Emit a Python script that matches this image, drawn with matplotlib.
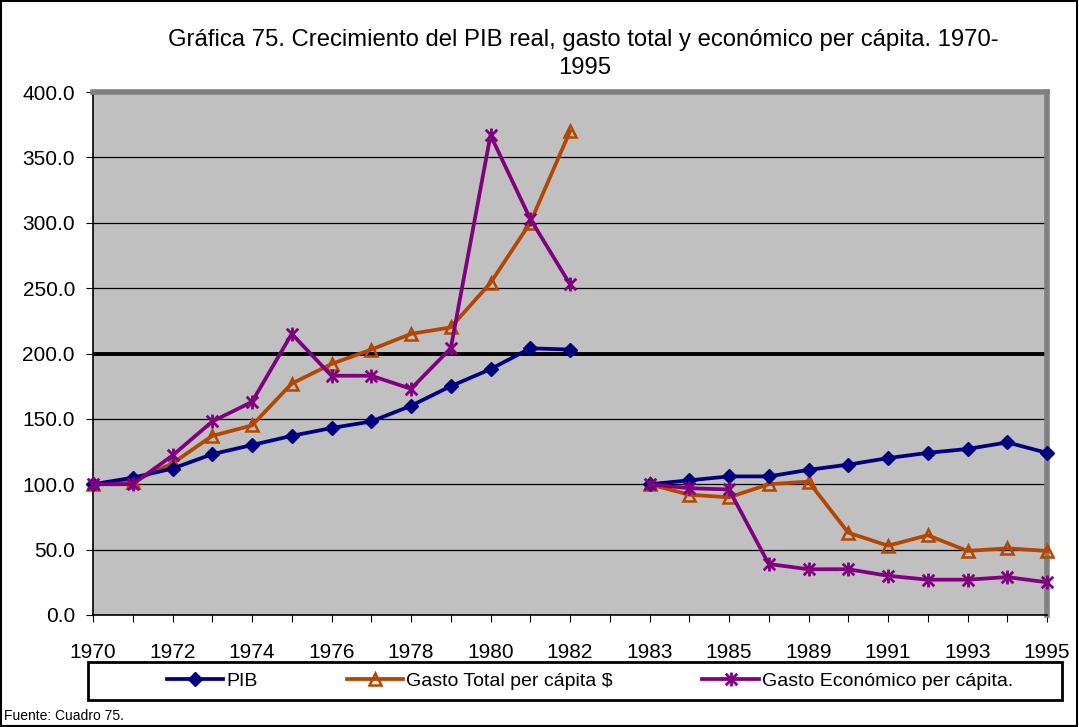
import numpy as np
import matplotlib
matplotlib.use("Agg")
import matplotlib.pyplot as plt
from matplotlib.path import Path
from matplotlib.patches import Rectangle

plt.rcParams["font.family"] = ["Liberation Sans", "DejaVu Sans"]

# Categorías del eje X (la posición vacía separa las dos series de años)
years = ["1970", "1971", "1972", "1973", "1974", "1975", "1976", "1977", "1978",
         "1979", "1980", "1981", "1982", "", "1983", "1984", "1985", "1987",
         "1989", "1990", "1991", "1992", "1993", "1994", "1995"]
shown_labels = ["1970", "1972", "1974", "1976", "1978", "1980", "1982",
                "1983", "1985", "1989", "1991", "1993", "1995"]

nan = np.nan
pib = [100, 105, 112, 123, 130, 137, 143, 148, 160, 175, 188, 204, 203, nan,
       100, 103, 106, 106, 111, 115, 120, 124, 127, 132, 124]
gasto_total = [100, 102, 116, 137, 145, 177, 192, 203, 215, 220, 254, 300, 370, nan,
               100, 92, 90, 100, 102, 63, 53, 61, 49, 51, 49]
gasto_economico = [100, 100, 122, 148, 163, 215, 183, 183, 173, 204, 367, 303, 253, nan,
                   100, 97, 96, 39, 35, 35, 30, 27, 27, 29, 25]

y_ticks = [0, 50, 100, 150, 200, 250, 300, 350, 400]

# Marcador tipo asterisco (X con trazo vertical)
star = Path([(-1, -1), (1, 1), (-1, 1), (1, -1), (0, -1.2), (0, 1.2)],
            [Path.MOVETO, Path.LINETO, Path.MOVETO, Path.LINETO, Path.MOVETO, Path.LINETO])

fig = plt.figure(figsize=(10.79, 7.27), dpi=100)
ax = fig.add_axes([93 / 1079, 1 - 615 / 727, (1047 - 93) / 1079, (615 - 92) / 727])
ax.set_facecolor("#C0C0C0")

x = np.arange(len(years))
ax.plot(x, pib, color="#000080", lw=2.7, marker="D", ms=7, label="PIB",
        clip_on=False, zorder=5)
ax.plot(x, gasto_total, color="#B34700", lw=2.7, marker="^", ms=9,
        mfc="none", mec="#B34700", mew=1.8, label="Gasto Total per cápita $",
        clip_on=False, zorder=4)
ax.plot(x, gasto_economico, color="#800080", lw=2.7, marker=star, ms=10,
        mew=2, label="Gasto Económico per cápita.", clip_on=False, zorder=6)

ax.set_xlim(0, len(years) - 1)
ax.set_ylim(0, 400)
ax.set_yticks(y_ticks)
ax.set_yticklabels([f"{v:.1f}" for v in y_ticks], fontsize=15)
# Se rotula una de cada dos categorías
ax.set_xticks(x)
ax.set_xticklabels([shown_labels[i // 2] if i % 2 == 0 else "" for i in range(len(years))],
                   fontsize=15)
ax.tick_params(axis="x", direction="out", length=5, pad=15, color="black")
ax.tick_params(axis="y", direction="out", length=5, pad=8, color="black")

ax.yaxis.grid(True, color="black", lw=0.9)
ax.set_axisbelow(True)
ax.axhline(200, color="black", lw=2.8, zorder=2)

for side in ["top", "right"]:
    ax.spines[side].set_color("#808080")
    ax.spines[side].set_linewidth(4)
for side in ["left", "bottom"]:
    ax.spines[side].set_color("black")
    ax.spines[side].set_linewidth(1.2)

fig.text(583 / 1079, 1 - 40 / 727,
         "Gráfica 75. Crecimiento del PIB real, gasto total y económico per cápita. 1970-",
         ha="center", va="center", fontsize=17.2)
fig.text(585 / 1079, 1 - 68 / 727, "1995", ha="center", va="center", fontsize=17.2)

# Caja de la leyenda
fig.patches.append(Rectangle((88 / 1079, 1 - 700 / 727), (1062 - 88) / 1079, 38 / 727,
                             transform=fig.transFigure, fill=False, ec="black", lw=2))
fig.legend(loc="center", bbox_to_anchor=(590 / 1079, 1 - 681 / 727), ncol=3,
           frameon=False, fontsize=14, handlelength=2.9, handletextpad=0.15,
           columnspacing=4.6)

fig.text(4 / 1079, 1 - 716 / 727, "Fuente: Cuadro 75.", ha="left", va="center", fontsize=10)

# Borde exterior del gráfico
fig.patches.append(Rectangle((0.001, 0.001), 0.997, 0.997, transform=fig.transFigure,
                             fill=False, ec="black", lw=1.5))

fig.savefig("out.png", dpi=100)
